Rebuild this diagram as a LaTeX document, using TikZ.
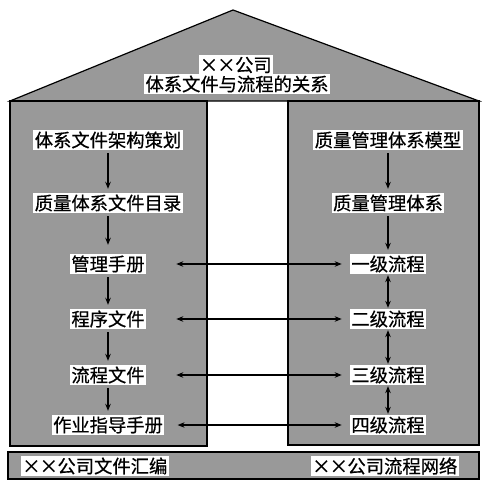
\documentclass[tikz,border=0pt]{standalone}
\usepackage{fontspec}
\newfontfamily\cjk[FakeBold=0.6]{Noto Sans CJK SC}
\usetikzlibrary{arrows.meta}
\newcommand\xmark{\makebox[0.95em]{×}}
\begin{document}
\begin{tikzpicture}[x=1pt,y=-1pt,
  tex/.style={fill=black!40, draw=black, line width=1.2pt},
  lbl/.style={font=\cjk\fontsize{18.3}{20}\selectfont, fill=white, inner sep=1.5pt, text=black},
  arr/.style={-{Stealth[length=7pt,width=5.5pt]}, line width=1.3pt},
  darr/.style={{Stealth[length=7pt,width=5.5pt]}-{Stealth[length=7pt,width=5.5pt]}, line width=1.3pt}]
\useasboundingbox (0,0) rectangle (482,482);
% shapes
\path[tex] (10,101) -- (233,10) -- (479,101) -- cycle;
\path[tex] (10,101) rectangle (207,446);
\path[tex] (288,101) rectangle (479,445);
\path[tex] (8,452) rectangle (479,479);
% roof text
\node[lbl] (t1) at (236,65) {\xmark\xmark 公司};
\node[lbl] (t2) at (237,84) {体系文件与流程的关系};
% left column
\node[lbl] (L1) at (108,140) {体系文件架构策划};
\node[lbl] (L2) at (108,203) {质量体系文件目录};
\node[lbl] (L3) at (108,264) {管理手册};
\node[lbl] (L4) at (108,319) {程序文件};
\node[lbl] (L5) at (108,375) {流程文件};
\node[lbl] (L6) at (108,425) {作业指导手册};
% right column
\node[lbl] (R1) at (388,140) {质量管理体系模型};
\node[lbl] (R2) at (388,203) {质量管理体系};
\node[lbl] (R3) at (388,264) {一级流程};
\node[lbl] (R4) at (388,319) {二级流程};
\node[lbl] (R5) at (388,375) {三级流程};
\node[lbl] (R6) at (388,425) {四级流程};
% bottom bar
\node[lbl] (B1) at (95,466) {\xmark\xmark 公司文件汇编};
\node[lbl] (B2) at (385,466) {\xmark\xmark 公司流程网络};
% vertical arrows left
\draw[arr, shorten <=3pt, shorten >=4pt] (L1) -- (L2);
\draw[arr, shorten <=3pt, shorten >=9pt] (L2) -- (L3);
\draw[arr, shorten <=3pt, shorten >=4pt] (L3) -- (L4);
\draw[arr, shorten <=3pt, shorten >=4pt] (L4) -- (L5);
\draw[arr, shorten <=3pt, shorten >=4pt] (L5) -- (L6);
% vertical arrows right
\draw[arr, shorten <=3pt, shorten >=4pt] (R1) -- (R2);
\draw[arr, shorten <=3pt, shorten >=4pt] (R2) -- (R3);
\draw[darr, shorten <=1pt, shorten >=1pt] (R3) -- (R4);
\draw[darr, shorten <=1pt, shorten >=1pt] (R4) -- (R5);
\draw[darr, shorten <=1pt, shorten >=1pt] (R5) -- (R6);
% horizontal arrows
\draw[darr, shorten <=30pt, shorten >=8pt] (L3) -- (R3);
\draw[darr, shorten <=30pt, shorten >=8pt] (L4) -- (R4);
\draw[darr, shorten <=30pt, shorten >=8pt] (L5) -- (R5);
\draw[darr, shorten <=13pt, shorten >=8pt] (L6) -- (R6);
\end{tikzpicture}
\end{document}
